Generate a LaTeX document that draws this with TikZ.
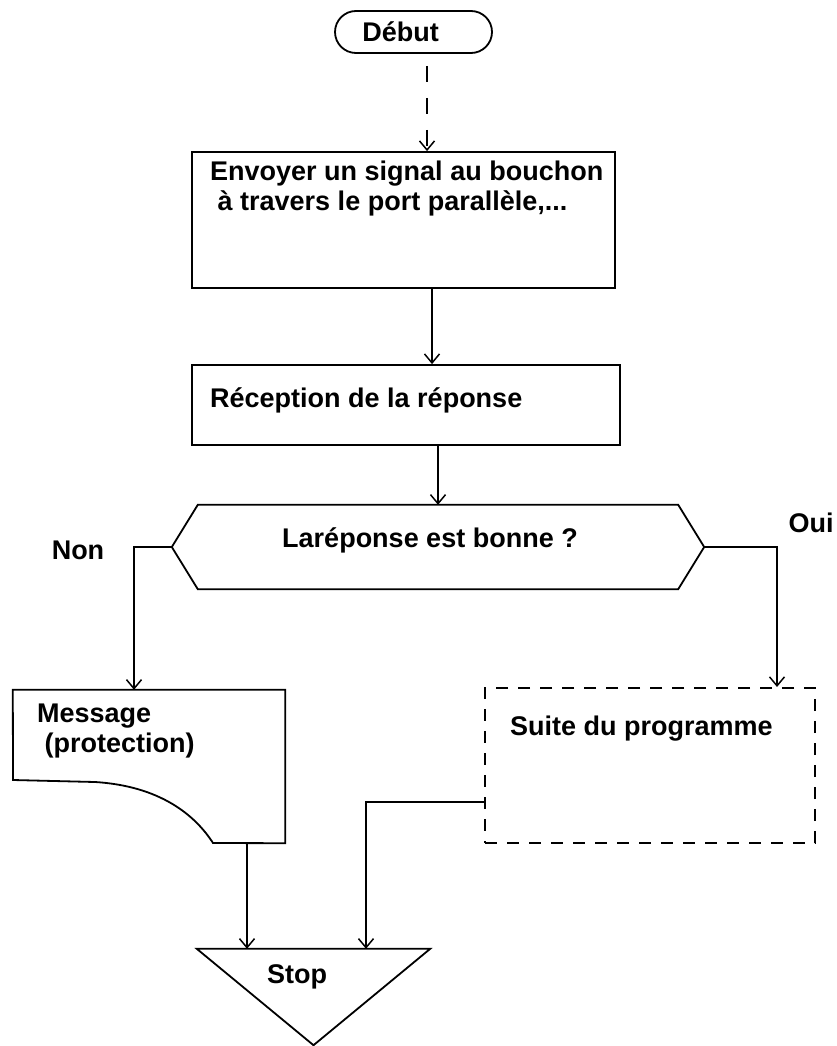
\documentclass[tikz,border=0pt]{standalone}
\usepackage{fontspec}
\setmainfont{Liberation Sans}
\usetikzlibrary{arrows.meta,calc}
\begin{document}
\begin{tikzpicture}[x=1pt,y=-1pt,
  lbl/.style={font=\bfseries\fontsize{27}{30}\selectfont, inner sep=0pt, text=black},
  outline/.style={draw=black, line width=1.8pt},
  hidden/.style={draw=none, inner sep=0pt},
  link/.style={draw=black, line width=1.3pt, -{Straight Barb[length=9pt,width=15pt,line width=1.5pt]}},
]
\fill[white] (0,0) rectangle (837,1046);
\useasboundingbox (0,0) rectangle (837,1046);

% start
\node[outline, rounded corners=21pt, minimum width=157pt, minimum height=42pt, lbl] (debut) at (413.5,32) {Début\hspace*{26pt}};

% box 1
\node[outline, minimum width=423pt, minimum height=136pt, inner sep=0pt] (box1) at (403.5,220) {};
\node[lbl, anchor=base west] (t1a) at (210,180) {Envoyer un signal au bouchon};
\node[lbl, anchor=base west] (t1b) at (210,210) {\ à travers le port parallèle,...};

% box 2
\node[outline, minimum width=428pt, minimum height=80pt, inner sep=0pt] (box2) at (406,405) {};
\node[lbl, anchor=base west] (t2) at (210,407) {Réception de la réponse};

% decision
\node[hidden, minimum width=480pt, minimum height=84pt] (dec) at (438,547) {};
\draw[outline] (dec.north west) -- (dec.north east) -- ([xshift=26pt]dec.east) -- (dec.south east) -- (dec.south west) -- ([xshift=-26pt]dec.west) -- cycle;
\node[lbl] (dtxt) at (430,540) {Laréponse est bonne ?};
\node[lbl] (non) at (78,550) {Non};
\node[lbl] (oui) at (811,523) {Oui};

% message
\node[hidden, minimum width=272pt, minimum height=153pt] (msg) at (149,766.5) {};
\draw[outline] (msg.south east) -- (msg.north east) -- (msg.north west) -- (13,780) -- (95,782) .. controls (160,786) and (195,815) .. (213,843) -- cycle;
\node[lbl, anchor=base west] (m1) at (37,722) {Message};
\node[lbl, anchor=base west] (m2) at (37,752) {\ (protection)};

% suite
\node[draw=black, line width=2pt, dash pattern=on 12pt off 10pt, minimum width=330pt, minimum height=155pt, inner sep=0pt] (suite) at (650,765.5) {};
\node[lbl, anchor=base west] (s1) at (510,735) {Suite du programme};

% stop
\node[hidden, minimum width=233pt, minimum height=96pt] (stop) at (313.5,997) {};
\draw[outline] (stop.north west) -- (stop.north east) -- (stop.south) -- cycle;
\node[lbl] (stxt) at (297,977) {Stop};

% connectors
\draw[link, dash pattern=on 16pt off 16pt, dash phase=20pt] ([xshift=13.5pt]debut.south) -- ([xshift=23.5pt]box1.north);
\draw[link] ([xshift=28.5pt]box1.south) -- ([xshift=26pt]box2.north);
\draw[link] ([xshift=32pt]box2.south) -- (dec.north);
\draw[link] ([xshift=-26pt]dec.west) -| ([xshift=-15pt]msg.north);
\draw[link] ([xshift=26pt]dec.east) -| ([xshift=127pt]suite.north);
\draw[link] ([xshift=98pt]msg.south) -- ([xshift=-66.5pt]stop.north);
\draw[link] ([yshift=-36.5pt]suite.west) -| ([xshift=52.5pt]stop.north);
\end{tikzpicture}
\end{document}
